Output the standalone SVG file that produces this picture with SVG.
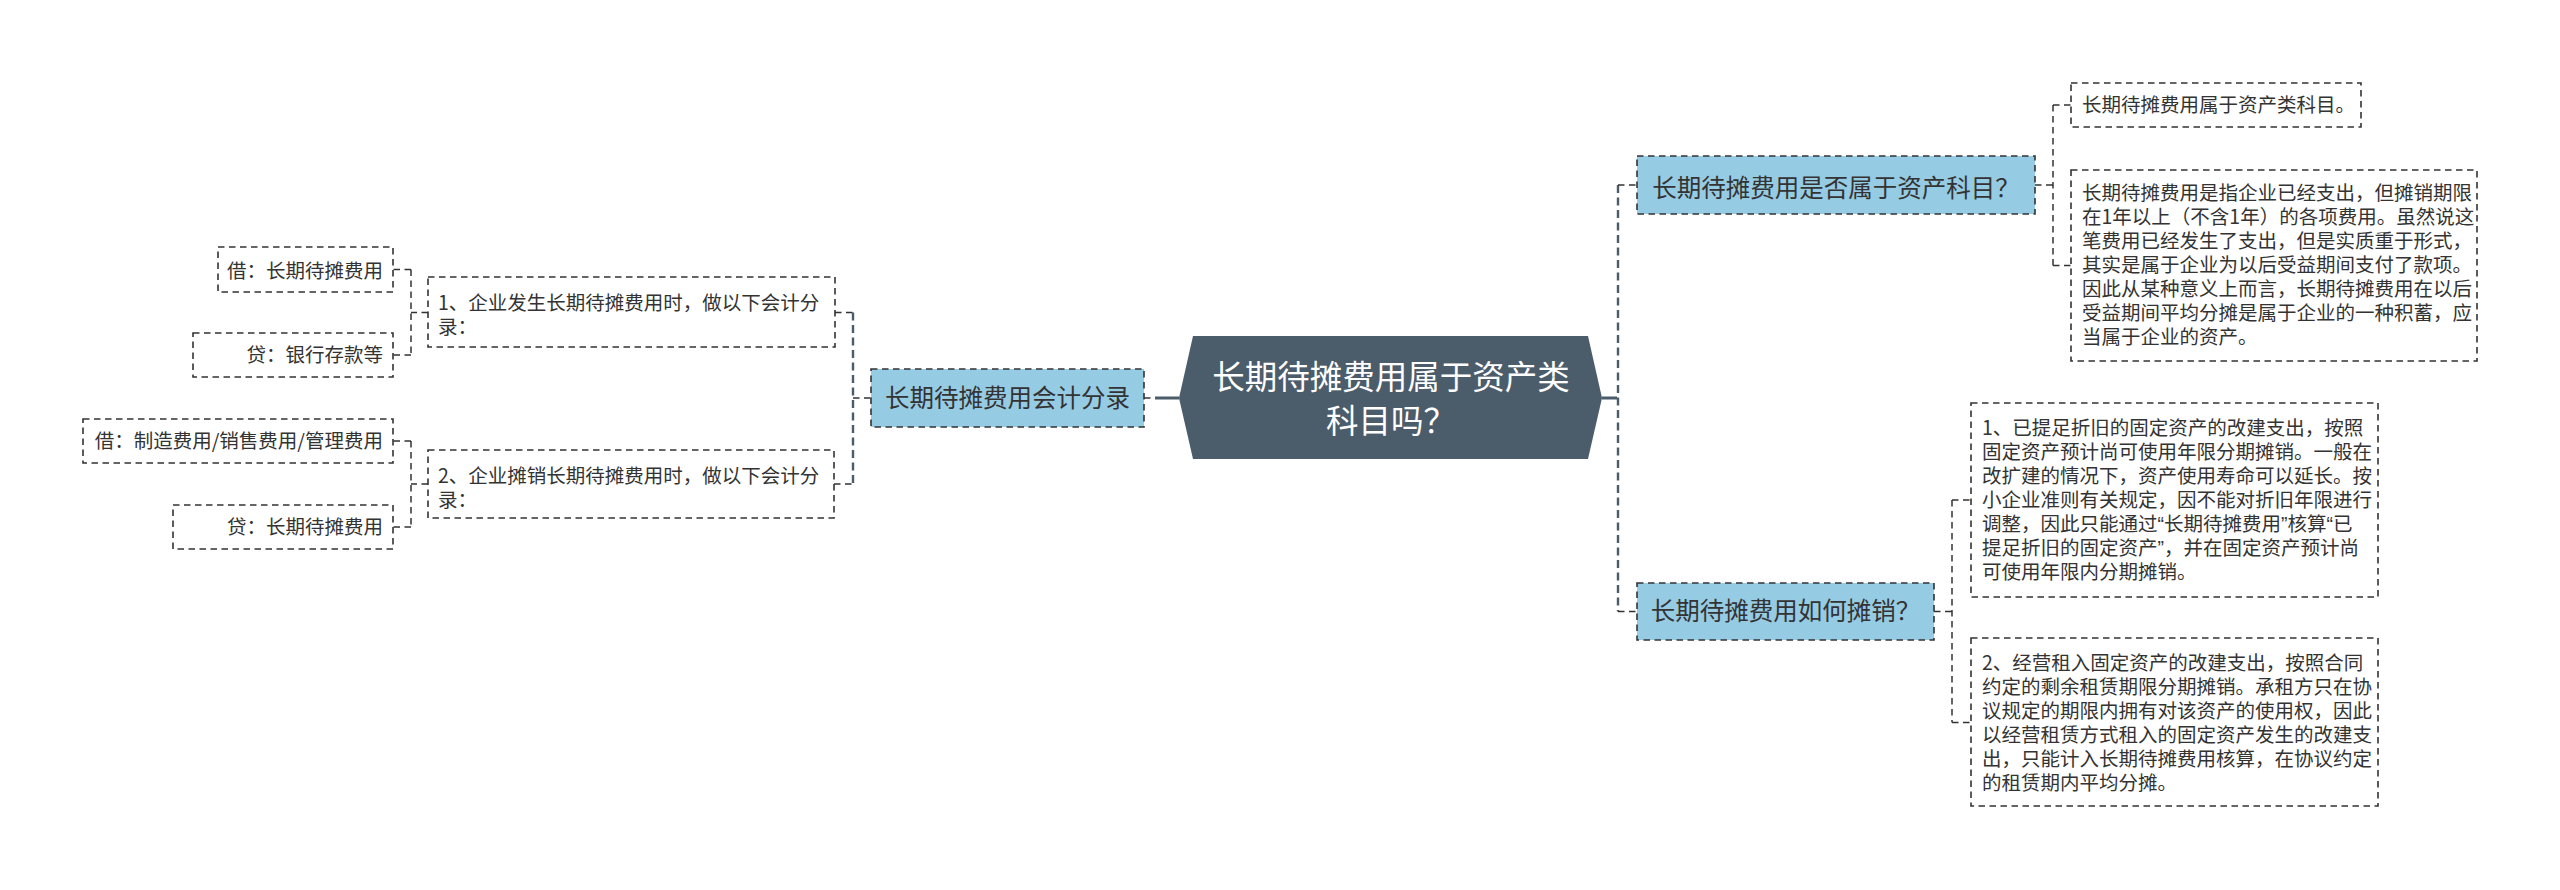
<svg xmlns="http://www.w3.org/2000/svg" width="2560" height="890" viewBox="0 0 2560 890">
<style>
text{font-family:"Noto Sans CJK SC","Noto Sans",sans-serif;fill:#333}
.t{font-size:19.5px}
.b{font-size:24.5px}
.c{font-size:32.5px;fill:#fff}
.q{font-family:"Liberation Sans","Noto Sans CJK SC",sans-serif}
.box{fill:#fff;stroke:#333;stroke-width:1.6;stroke-dasharray:6.5 4.5}
.blue{fill:#96CBE4;stroke:#333;stroke-width:1.6;stroke-dasharray:6.5 4.5}
.ln{fill:none;stroke:#333;stroke-width:1.5;stroke-dasharray:6.5 4.5}
.main{fill:none;stroke:#4B5C6B;stroke-width:2.4;stroke-dasharray:8 4.5}
.solid{fill:none;stroke:#4B5C6B;stroke-width:2.8}
</style>
<rect width="2560" height="890" fill="#fff"/>
<g id="connectors">
<path class="solid" d="M1155 398H1179M1602 398H1617"/>
<path class="ln" d="M1144 398H1155"/>
<path class="main" d="M1618 185V611.5M853 312.5V484"/>
<path class="ln" d="M1618 185H1637M1618 611.5H1637"/>
<path class="ln" d="M835 312.5H853M834 484H853M853 398H871"/>
<path class="ln" d="M2035 185H2053M2053 105V265.5M2053 105H2071M2053 265.5H2071"/>
<path class="ln" d="M1934 611.5H1952M1952 500V722.5M1952 500H1971M1952 722.5H1971"/>
<path class="ln" d="M428 312.5H411M411 269.5V355M411 269.5H393M411 355H393"/>
<path class="ln" d="M428 484H411M411 441V527M411 441H393M411 527H393"/>
</g>
<g id="center">
<polygon points="1193,336 1588,336 1602,398 1588,459 1193,459 1179,398" fill="#4B5C6B"/>
<text class="c" x="1391" y="389" text-anchor="middle">长期待摊费用属于资产类</text>
<text class="c" x="1391" y="433" text-anchor="middle">科目吗？</text>
</g>
<g id="n-r1">
<rect class="blue" x="1637" y="156" width="398" height="58"/>
<text class="b" x="1836" y="197" text-anchor="middle">长期待摊费用是否属于资产科目？</text>
</g>
<g id="n-r1c1">
<rect class="box" x="2071" y="83" width="290" height="44"/>
<text class="t" x="2082" y="112">长期待摊费用属于资产类科目。</text>
</g>
<g id="n-r1c2">
<rect class="box" x="2071" y="170" width="406" height="191"/>
<text class="t" x="2082" y="199.5">长期待摊费用是指企业已经支出，但摊销期限</text>
<text class="t" x="2082" y="223.6">在1年以上（不含1年）的各项费用。虽然说这</text>
<text class="t" x="2082" y="247.6">笔费用已经发生了支出，但是实质重于形式，</text>
<text class="t" x="2082" y="271.7">其实是属于企业为以后受益期间支付了款项。</text>
<text class="t" x="2082" y="295.8">因此从某种意义上而言，长期待摊费用在以后</text>
<text class="t" x="2082" y="319.8">受益期间平均分摊是属于企业的一种积蓄，应</text>
<text class="t" x="2082" y="343.9">当属于企业的资产。</text>
</g>
<g id="n-r2">
<rect class="blue" x="1637" y="583" width="297" height="57"/>
<text class="b" x="1785.5" y="620" text-anchor="middle">长期待摊费用如何摊销？</text>
</g>
<g id="n-r2c1">
<rect class="box" x="1971" y="403" width="407" height="194"/>
<text class="t" x="1982" y="434.5">1、已提足折旧的固定资产的改建支出，按照</text>
<text class="t" x="1982" y="458.6">固定资产预计尚可使用年限分期摊销。一般在</text>
<text class="t" x="1982" y="482.6">改扩建的情况下，资产使用寿命可以延长。按</text>
<text class="t" x="1982" y="506.7">小企业准则有关规定，因不能对折旧年限进行</text>
<text class="t" x="1982" y="530.8">调整，因此只能通过<tspan class="q">“</tspan>长期待摊费用<tspan class="q">”</tspan>核算<tspan class="q">“</tspan>已</text>
<text class="t" x="1982" y="554.8">提足折旧的固定资产<tspan class="q">”</tspan>，并在固定资产预计尚</text>
<text class="t" x="1982" y="578.9">可使用年限内分期摊销。</text>
</g>
<g id="n-r2c2">
<rect class="box" x="1971" y="638" width="407" height="168"/>
<text class="t" x="1982" y="669.5">2、经营租入固定资产的改建支出，按照合同</text>
<text class="t" x="1982" y="693.6">约定的剩余租赁期限分期摊销。承租方只在协</text>
<text class="t" x="1982" y="717.6">议规定的期限内拥有对该资产的使用权，因此</text>
<text class="t" x="1982" y="741.7">以经营租赁方式租入的固定资产发生的改建支</text>
<text class="t" x="1982" y="765.8">出，只能计入长期待摊费用核算，在协议约定</text>
<text class="t" x="1982" y="789.8">的租赁期内平均分摊。</text>
</g>
<g id="n-l">
<rect class="blue" x="871" y="369" width="273" height="58"/>
<text class="b" x="1007.5" y="406.5" text-anchor="middle">长期待摊费用会计分录</text>
</g>
<g id="n-l1">
<rect class="box" x="428" y="277" width="407" height="70"/>
<text class="t" x="438" y="309.5">1、企业发生长期待摊费用时，做以下会计分</text>
<text class="t" x="438" y="333.6">录：</text>
</g>
<g id="n-l1a">
<rect class="box" x="218" y="247" width="175" height="45"/>
<text class="t" x="383" y="278" text-anchor="end">借：长期待摊费用</text>
</g>
<g id="n-l1b">
<rect class="box" x="193" y="333" width="200" height="44"/>
<text class="t" x="383" y="362" text-anchor="end">贷：银行存款等</text>
</g>
<g id="n-l2">
<rect class="box" x="428" y="450" width="406" height="68"/>
<text class="t" x="438" y="482.5">2、企业摊销长期待摊费用时，做以下会计分</text>
<text class="t" x="438" y="506.6">录：</text>
</g>
<g id="n-l2a">
<rect class="box" x="83" y="419" width="310" height="44"/>
<text class="t" x="383" y="448" text-anchor="end">借：制造费用/销售费用/管理费用</text>
</g>
<g id="n-l2b">
<rect class="box" x="173" y="505" width="220" height="44"/>
<text class="t" x="383" y="534" text-anchor="end">贷：长期待摊费用</text>
</g>
</svg>
